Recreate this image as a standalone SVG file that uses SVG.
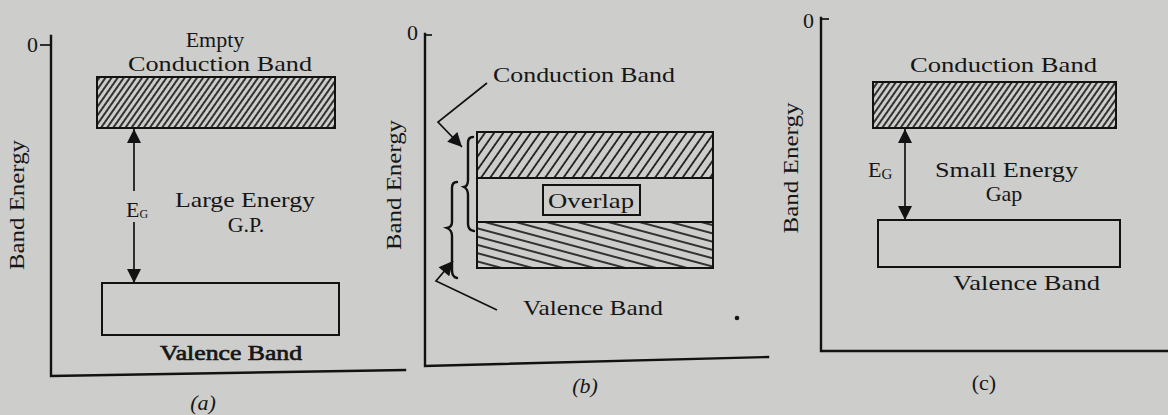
<svg xmlns="http://www.w3.org/2000/svg" width="1168" height="415" viewBox="0 0 1168 415">
<style>
.ax{stroke:#121212;stroke-width:2.4;fill:none;stroke-linecap:square}
.band{stroke:#121212;stroke-width:2;}
.t{font-family:"Liberation Serif","Times New Roman",serif;fill:#161616;font-size:22px}
.ln{stroke:#121212;stroke-width:1.7;fill:none}
.br{stroke:#121212;stroke-width:2.4;fill:none;stroke-linecap:round}
</style>
<defs>
<pattern id="hatchA" patternUnits="userSpaceOnUse" width="5" height="10" patternTransform="rotate(35)">
<rect width="5" height="10" fill="#cdcdcb"/>
<line x1="1" y1="0" x2="1" y2="10" stroke="#161616" stroke-width="1.7"/>
</pattern>
<pattern id="hatchB" patternUnits="userSpaceOnUse" width="7.5" height="10" patternTransform="rotate(35)">
<rect width="7.5" height="10" fill="#cdcdcb"/>
<line x1="1" y1="0" x2="1" y2="10" stroke="#161616" stroke-width="1.7"/>
</pattern>
<pattern id="hatchV" patternUnits="userSpaceOnUse" width="10" height="8" patternTransform="rotate(15)">
<rect width="10" height="8" fill="#cdcdcb"/>
<line x1="0" y1="1" x2="10" y2="1" stroke="#161616" stroke-width="1.7"/>
</pattern>
<marker id="ah" viewBox="0 0 10 10" refX="10" refY="5" markerWidth="14" markerHeight="14" markerUnits="userSpaceOnUse" orient="auto-start-reverse">
<path d="M0,0 L10,5 L0,10 z" fill="#121212"/>
</marker>
<marker id="ahb" viewBox="0 0 10 10" refX="10" refY="5" markerWidth="17" markerHeight="14" markerUnits="userSpaceOnUse" orient="auto">
<path d="M0,0 L10,5 L0,10 z" fill="#121212"/>
</marker>
</defs>
<rect width="1168" height="415" fill="#cdcdcb"/>

<g id="panel-a">
<path class="ax" d="M51,36 L51,376 L405,370"/>
<line class="ln" x1="40" y1="45" x2="51" y2="45"/>
<text class="t" x="27" y="52" font-size="18">0</text>
<rect id="a-conduction" class="band" x="97" y="77" width="238" height="51" fill="url(#hatchA)"/>
<rect id="a-valence" class="band" x="102" y="283" width="237" height="52" fill="none"/>
<text class="t" x="215" y="47" font-size="20" text-anchor="middle">Empty</text>
<text class="t" x="128" y="71" textLength="184" lengthAdjust="spacingAndGlyphs">Conduction Band</text>
<text class="t" x="126" y="217" font-size="16">E<tspan font-size="12" dy="1">G</tspan></text>
<text class="t" x="175" y="207" textLength="140" lengthAdjust="spacingAndGlyphs">Large Energy</text>
<text class="t" x="246" y="232" text-anchor="middle">G.P.</text>
<text class="t" x="160" y="360" stroke="#161616" stroke-width="0.7" textLength="142" lengthAdjust="spacingAndGlyphs">Valence Band</text>
<text class="t" x="203" y="410" text-anchor="middle" font-style="italic">(a)</text>
<text class="t" transform="translate(24,205) rotate(-90)" text-anchor="middle" font-size="20" textLength="130" lengthAdjust="spacingAndGlyphs">Band Energy</text>
</g>

<g id="panel-b">
<path class="ax" d="M425,34 L425,366 L768,357"/>
<line class="ln" x1="425" y1="35" x2="432" y2="35"/>
<text class="t" x="407" y="40" font-size="17">0</text>
<rect id="b-band" class="band" x="477" y="132" width="236" height="136" fill="none"/>
<rect id="b-conduction" class="band" x="477" y="132" width="236" height="46" fill="url(#hatchB)"/>
<rect id="b-valence" class="band" x="477" y="222" width="236" height="46" fill="url(#hatchV)"/>
<rect id="b-overlap" class="band" x="543" y="185" width="97" height="30" fill="none" stroke-width="1.6"/>
<text class="t" x="591" y="208" text-anchor="middle" textLength="86" lengthAdjust="spacingAndGlyphs">Overlap</text>
<text class="t" x="493" y="82" textLength="182" lengthAdjust="spacingAndGlyphs">Conduction Band</text>
<text class="t" x="523" y="315" textLength="140" lengthAdjust="spacingAndGlyphs">Valence Band</text>
<text class="t" x="585" y="393" text-anchor="middle" font-style="italic">(b)</text>
<text class="t" transform="translate(401,185) rotate(-90)" text-anchor="middle" font-size="20" textLength="130" lengthAdjust="spacingAndGlyphs">Band Energy</text>
<path class="br" d="M473,137 Q468,137 468,143 L468,180 Q468,186 464,187 Q468,189 468,195 L468,224 Q468,230 474,231"/>
<path class="br" d="M457,182 Q452,182 452,188 L452,222 Q452,227 447,228 Q452,230 452,236 L452,270 Q452,277 457,278"/>
<circle cx="737" cy="318" r="2.3" fill="#161616"/>
</g>

<g id="panel-c">
<path class="ax" d="M821,18 L821,351 L1168,351"/>
<line class="ln" x1="821" y1="19" x2="829" y2="19"/>
<text class="t" x="803" y="28" font-size="18">0</text>
<rect id="c-conduction" class="band" x="873" y="82" width="243" height="46" fill="url(#hatchA)"/>
<rect id="c-valence" class="band" x="878" y="220" width="242" height="47" fill="none"/>
<text class="t" x="910" y="72" textLength="187" lengthAdjust="spacingAndGlyphs">Conduction Band</text>
<text class="t" x="868" y="177" font-size="20">E<tspan font-size="15" dy="2">G</tspan></text>
<text class="t" x="935" y="177" textLength="143" lengthAdjust="spacingAndGlyphs">Small Energy</text>
<text class="t" x="1004" y="201" text-anchor="middle">Gap</text>
<text class="t" x="953" y="290" textLength="147" lengthAdjust="spacingAndGlyphs">Valence Band</text>
<text class="t" x="984" y="390" text-anchor="middle">(c)</text>
<text class="t" transform="translate(798,168) rotate(-90)" text-anchor="middle" font-size="20" textLength="131" lengthAdjust="spacingAndGlyphs">Band Energy</text>
</g>

<g id="connectors">
<line class="ln" x1="134" y1="129" x2="134" y2="191" marker-start="url(#ah)"/>
<line class="ln" x1="134" y1="222" x2="134" y2="283" marker-end="url(#ah)"/>
<polyline class="ln" points="487,83 438,122 462,147" marker-end="url(#ahb)"/>
<polyline class="ln" points="497,310 436,281 453,261" marker-end="url(#ahb)"/>
<line class="ln" x1="905" y1="129" x2="905" y2="220" marker-start="url(#ah)" marker-end="url(#ah)"/>
</g>
</svg>
